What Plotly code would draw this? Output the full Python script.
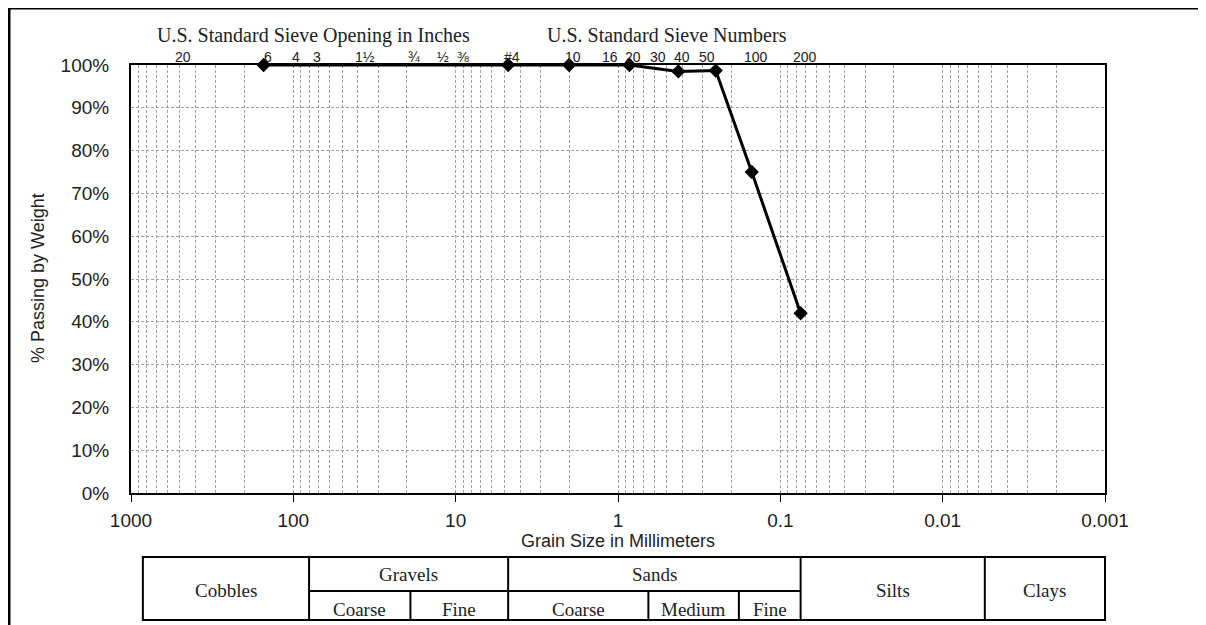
import math
import plotly.graph_objects as go

# ---- data ----
grain_size_mm = [152.4, 4.75, 2.0, 0.85, 0.425, 0.25, 0.15, 0.075]
percent_passing = [100, 100, 100, 100, 98.5, 98.7, 75, 42]

x_tick_vals = [1000, 100, 10, 1, 0.1, 0.01, 0.001]
x_tick_text = ["1000", "100", "10", "1", "0.1", "0.01", "0.001"]
y_tick_vals = [0, 10, 20, 30, 40, 50, 60, 70, 80, 90, 100]
y_tick_text = [f"{v}%" for v in y_tick_vals]

inch_labels = ["20", "6", "4", "3", "1½", "¾", "½", "⅜", "#4"]
inch_sizes_mm = [508, 152.4, 101.6, 76.2, 38.1, 19.05, 12.7, 9.525, 4.75]
number_labels = ["10", "16", "20", "30", "40", "50", "100", "200"]
number_sizes_mm = [2.0, 1.18, 0.85, 0.6, 0.425, 0.3, 0.15, 0.075]

# soil classification table (boundaries in mm, as drawn)
table_bounds_main = [845, 80, 4.75, 0.075, 0.0055, 0.001]
table_main_labels = ["Cobbles", "Gravels", "Sands", "Silts", "Clays"]
gravel_sub_bounds = [80, 19, 4.75]
gravel_sub_labels = ["Coarse", "Fine"]
sand_sub_bounds = [4.75, 0.65, 0.18, 0.075]
sand_sub_labels = ["Coarse", "Medium", "Fine"]

# ---- layout geometry (page pixels are offset by the 8px body margin) ----
OFF = 8
W, H = 1198, 617
L, R, T, B = 123, 101, 57, 132
pw, ph = W - L - R, H - T - B

def xp(v):  # mm -> paper fraction on reversed log axis 1000..0.001
    return (3 - math.log10(v)) / 6

def yp(py):  # page pixel y -> paper y
    return (H - B - (py - OFF)) / ph

def xpx(px):  # page pixel x -> paper x
    return (px - OFF - L) / pw

fig = go.Figure()
fig.add_trace(go.Scatter(
    x=grain_size_mm, y=percent_passing, mode="lines+markers",
    line=dict(color="black", width=3),
    marker=dict(symbol="diamond", size=11, color="black"),
    cliponaxis=False, showlegend=False,
))

gcol = "#a0a0a0"
gdash = "3px,2px"
fig.update_xaxes(
    type="log", range=[3, -3], tickvals=x_tick_vals, ticktext=x_tick_text,
    ticks="outside", ticklen=7, tickcolor="black", tickwidth=1,
    showline=True, linecolor="black", linewidth=2, mirror=True,
    showgrid=True, gridcolor=gcol, gridwidth=1, griddash=gdash,
    minor=dict(dtick="D1", showgrid=True, gridcolor=gcol, gridwidth=1,
               griddash=gdash, ticks=""),
    tickfont=dict(family="Liberation Sans, Arial", size=19, color="#222"),
    ticklabelstandoff=2, zeroline=False,
)
fig.update_yaxes(
    range=[0, 100], tickvals=y_tick_vals, ticktext=y_tick_text,
    showline=True, linecolor="black", linewidth=2, mirror=True,
    showgrid=True, gridcolor=gcol, gridwidth=1, griddash=gdash,
    ticks="", ticklabelstandoff=16,
    tickfont=dict(family="Liberation Sans, Arial", size=19, color="#222"),
    zeroline=False,
)

ann = []
serif = "Liberation Serif, Times New Roman, serif"
sans = "Liberation Sans, Arial"

def A(**kw):
    d = dict(showarrow=False, xanchor="center", yanchor="middle")
    d.update(kw)
    ann.append(d)

for lab, s in zip(inch_labels + number_labels, inch_sizes_mm + number_sizes_mm):
    A(x=math.log10(s), y=yp(57), xref="x", yref="paper", text=lab, xshift=4,
      font=dict(family=sans, size=14, color="#222"))
A(x=xpx(313), y=yp(35), xref="paper", yref="paper",
  text="U.S. Standard Sieve Opening in Inches",
  font=dict(family=serif, size=20, color="#222"))
A(x=xpx(667), y=yp(35), xref="paper", yref="paper",
  text="U.S. Standard Sieve Numbers",
  font=dict(family=serif, size=20, color="#222"))
A(x=0.5, y=yp(541), xref="paper", yref="paper",
  text="Grain Size in Millimeters",
  font=dict(family="Liberation Sans Narrow, " + sans, size=18, color="#222"))
A(x=xpx(38), y=yp(278), xref="paper", yref="paper",
  text="% Passing by Weight", textangle=-90,
  font=dict(family=sans, size=18, color="#222"))

shapes = []
line_k = dict(color="black", width=2)
ty_top, ty_mid, ty_bot = yp(557), yp(591), yp(620)
xs = [xp(v) for v in table_bounds_main]
shapes.append(dict(type="rect", xref="paper", yref="paper", x0=xs[0], x1=xs[-1],
                   y0=ty_bot, y1=ty_top, line=line_k))
for xv in xs[1:-1]:
    shapes.append(dict(type="line", xref="paper", yref="paper", x0=xv, x1=xv,
                       y0=ty_bot, y1=ty_top, line=line_k))
shapes.append(dict(type="line", xref="paper", yref="paper", x0=xs[1], x1=xs[3],
                   y0=ty_mid, y1=ty_mid, line=line_k))
for bounds in (gravel_sub_bounds, sand_sub_bounds):
    for v in bounds[1:-1]:
        shapes.append(dict(type="line", xref="paper", yref="paper", x0=xp(v), x1=xp(v),
                           y0=ty_bot, y1=ty_mid, line=line_k))
tfont = dict(family=serif, size=19, color="#222")
for i, lab in enumerate(table_main_labels):
    cx = (xs[i] + xs[i + 1]) / 2
    cy = yp(574) if lab in ("Gravels", "Sands") else yp(590)
    A(x=cx, y=cy, xref="paper", yref="paper", text=lab, font=tfont)
for bounds, labs in ((gravel_sub_bounds, gravel_sub_labels), (sand_sub_bounds, sand_sub_labels)):
    for i, lab in enumerate(labs):
        cx = (xp(bounds[i]) + xp(bounds[i + 1])) / 2
        A(x=cx, y=yp(609), xref="paper", yref="paper", text=lab, font=tfont)

# page frame
shapes.append(dict(type="line", xref="paper", yref="paper", x0=xpx(9), x1=xpx(1200),
                   y0=yp(8), y1=yp(8), line=dict(color="black", width=3)))
shapes.append(dict(type="line", xref="paper", yref="paper", x0=xpx(9), x1=xpx(9),
                   y0=yp(8), y1=yp(630), line=dict(color="black", width=3)))
shapes.append(dict(type="line", xref="paper", yref="paper", x0=xpx(1200), x1=xpx(1200),
                   y0=yp(8), y1=yp(630), line=dict(color="#888", width=1)))

fig.update_layout(
    width=W, height=H, margin=dict(l=L, r=R, t=T, b=B),
    paper_bgcolor="white", plot_bgcolor="white",
    annotations=ann, shapes=shapes, showlegend=False,
)
fig.write_html("out.html")
